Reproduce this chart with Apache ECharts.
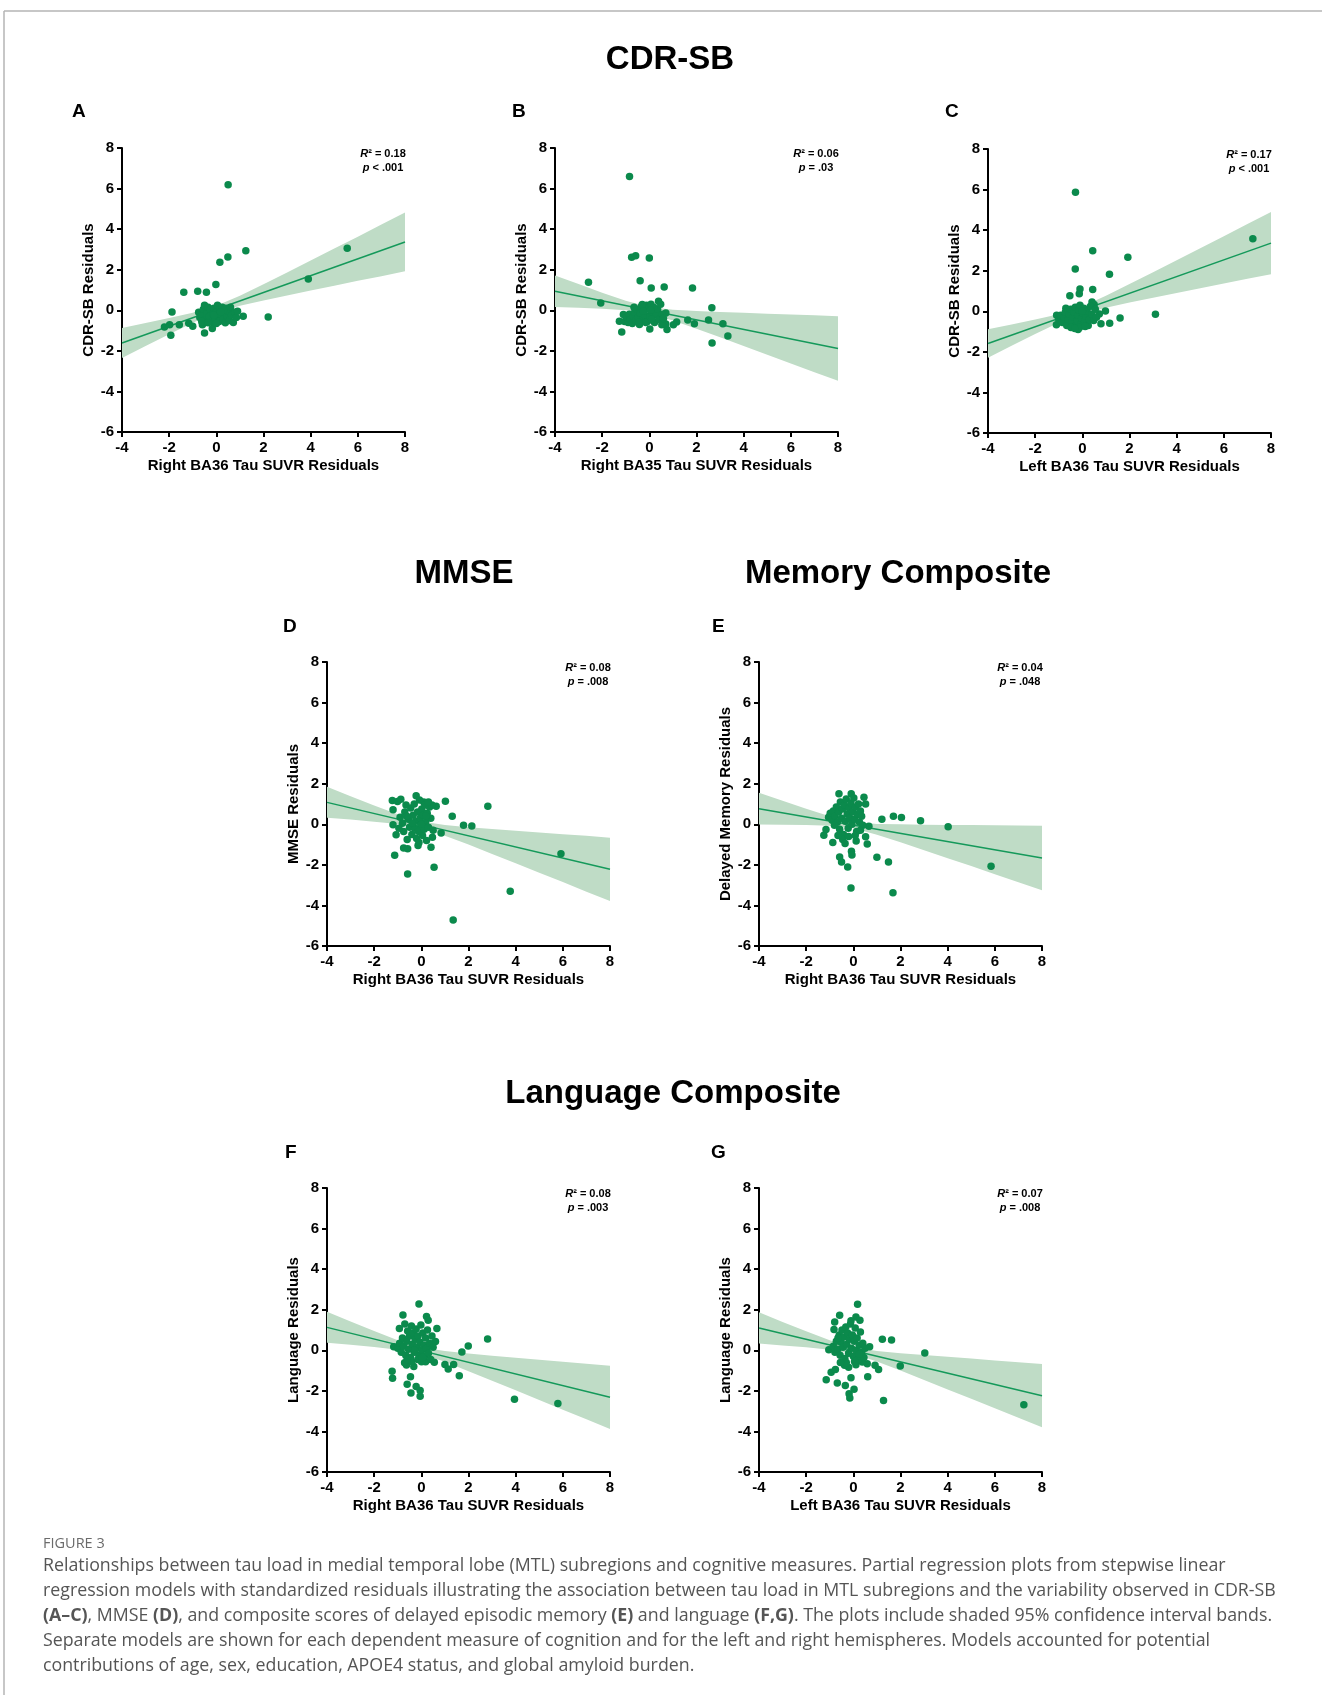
<!DOCTYPE html>
<html><head><meta charset="utf-8">
<script src="https://cdn.jsdelivr.net/npm/echarts@6/dist/echarts.min.js"></script>
<style>html,body{margin:0;padding:0;background:#fff}#c{width:1322px;height:1695px}</style>
</head><body><div id="c"></div>
<script>
// ---------------- DATA ----------------
const xTicks = [-4, -2, 0, 2, 4, 6, 8];
const yTicks = [-6, -4, -2, 0, 2, 4, 6, 8];
const bandX = [-4, -3, -2, -1, 0, 1, 2, 3, 4, 5, 6, 7, 8];

const ptsA = [[0.50,6.19],[1.25,2.94],[0.49,2.63],[0.15,2.37],[5.55,3.06],[3.90,1.54],[-0.02,1.27],[-1.38,0.89],[-0.79,0.94],[-0.42,0.89],[-1.88,-0.08],[2.20,-0.33],[1.14,-0.30],[-2.20,-0.82],[-1.98,-0.71],[-1.57,-0.71],[-1.93,-1.23],[-1.17,-0.64],[-1.00,-0.79],[-0.50,-1.12],[-0.17,-0.90],[-0.59,-0.71],
[-0.75,-0.10],[-0.70,-0.35],[-0.62,-0.20],[-0.55,0.05],[-0.50,0.25],[-0.45,-0.45],[-0.40,-0.15],[-0.35,0.15],[-0.30,-0.30],[-0.25,0.05],[-0.20,-0.55],[-0.15,-0.20],[-0.10,0.10],[-0.05,-0.40],[0.00,-0.10],[0.05,0.25],[0.08,-0.30],[0.12,-0.55],[0.15,0.05],[0.20,-0.20],[0.25,0.15],[0.28,-0.45],[0.33,-0.10],[0.38,-0.62],[0.40,0.10],[0.45,-0.30],[0.52,-0.05],[0.55,-0.50],[0.60,0.15],[0.65,-0.25],[0.72,-0.60],[0.78,-0.10],[0.85,-0.35],[0.90,-0.05],[-0.62,-0.55],[-0.35,-0.62],[0.00,-0.65],[0.30,0.00],[-0.10,-0.25],[0.18,-0.08]];
const lineA = [[-4,-1.61],[8,3.37]];
const upA = [-0.87,-0.63,-0.38,-0.12,0.22,0.72,1.28,1.86,2.45,3.04,3.63,4.23,4.82];
const loA = [-2.35,-1.76,-1.18,-0.62,-0.12,0.22,0.48,0.73,0.97,1.21,1.45,1.68,1.92];

const ptsB = [[-0.84,6.59],[-0.75,2.61],[-0.58,2.69],[0.00,2.58],[-0.39,1.46],[-2.58,1.38],[-2.06,0.36],[0.08,1.10],[0.63,1.15],[1.83,1.10],[2.65,0.12],[0.39,0.44],[2.51,-0.48],[1.63,-0.48],[1.91,-0.66],[3.12,-0.66],[3.33,-1.27],[2.66,-1.61],[-1.17,-1.07],[0.02,-0.92],[0.75,-0.95],[1.16,-0.58],[1.02,-0.71],[0.70,-0.67],[0.70,-0.13],[0.53,-0.71],[-1.27,-0.54],[-1.10,-0.21],
[-1.05,-0.55],[-0.95,-0.35],[-0.90,-0.60],[-0.85,-0.20],[-0.80,-0.45],[-0.72,-0.65],[-0.68,-0.30],[-0.62,-0.10],[-0.58,-0.50],[-0.52,0.05],[-0.48,-0.35],[-0.42,-0.70],[-0.38,-0.15],[-0.33,0.20],[-0.28,-0.45],[-0.22,0.00],[-0.18,-0.25],[-0.12,0.25],[-0.08,-0.55],[-0.03,0.10],[0.02,-0.30],[0.07,0.30],[0.12,-0.10],[0.18,0.15],[0.22,-0.60],[0.28,-0.25],[0.35,0.05],[0.42,-0.45],[0.48,0.30],[0.55,-0.20],[-0.30,0.28],[-0.15,-0.60],[-0.65,0.15],[0.10,-0.45],[-0.45,-0.60],[0.60,-0.40],[-0.25,-0.05],[0.05,0.00]];
const lineB = [[-4,0.94],[8,-1.88]];
const upB = [1.72,1.29,0.87,0.47,0.16,0.03,-0.03,-0.08,-0.12,-0.17,-0.21,-0.25,-0.29];
const loB = [0.16,0.12,0.07,0.00,-0.16,-0.50,-0.91,-1.33,-1.76,-2.19,-2.62,-3.05,-3.47];

const ptsC = [[-0.29,5.87],[7.23,3.58],[0.44,2.99],[1.93,2.66],[-0.30,2.09],[1.15,1.82],[-0.10,1.10],[-0.13,0.87],[0.44,1.07],[-0.53,0.76],[3.10,-0.15],[1.60,-0.33],[1.16,-0.59],[0.79,-0.62],[0.98,0.02],[0.72,-0.13],[-1.10,-0.66],[-1.09,-0.20],[-0.18,-0.90],[0.50,0.33],[0.41,0.46],
[-1.00,-0.40],[-0.92,-0.20],[-0.85,-0.55],[-0.78,-0.30],[-0.72,-0.05],[-0.66,-0.70],[-0.60,-0.40],[-0.55,-0.15],[-0.50,0.10],[-0.45,-0.55],[-0.40,-0.30],[-0.35,-0.05],[-0.30,0.20],[-0.26,-0.70],[-0.22,-0.45],[-0.18,-0.20],[-0.14,0.05],[-0.10,0.30],[-0.06,-0.60],[-0.02,-0.35],[0.02,-0.10],[0.06,0.15],[0.10,-0.50],[0.15,-0.25],[0.20,0.00],[0.25,-0.70],[0.30,-0.40],[0.35,0.25],[0.40,-0.15],[0.48,-0.45],[0.55,0.10],[0.60,-0.30],[-0.48,-0.80],[-0.12,-0.80],[0.12,-0.75],[-0.70,0.15],[-0.32,-0.85],[0.00,0.00]];
const lineC = [[-4,-1.59],[8,3.36]];
const upC = [-0.89,-0.65,-0.41,-0.14,0.24,0.77,1.34,1.93,2.52,3.11,3.70,4.30,4.89];
const loC = [-2.29,-1.70,-1.12,-0.57,-0.12,0.18,0.43,0.67,0.90,1.14,1.37,1.60,1.83];

const ptsD = [[5.92,-1.45],[3.77,-3.30],[1.35,-4.72],[-0.58,-2.45],[0.54,-2.12],[-1.13,-1.53],[2.82,0.89],[1.02,1.13],[1.31,0.39],[1.79,-0.05],[2.14,-0.08],[0.84,-0.43],[0.47,-0.64],[0.41,-1.13],[-0.14,-1.05],[-0.75,-1.17],[-0.58,-1.20],[-1.07,-0.51],[-1.20,-0.02],[-1.20,0.72],[-1.23,1.17],[-1.01,1.12],[-0.87,1.23],[-0.22,1.41],[0.63,0.89],[0.10,1.10],
[-0.90,0.35],[-0.80,0.05],[-0.75,-0.35],[-0.70,0.60],[-0.65,0.95],[-0.60,-0.75],[-0.55,0.25],[-0.50,-0.15],[-0.45,0.80],[-0.40,-0.50],[-0.35,0.45],[-0.30,1.00],[-0.28,-0.20],[-0.24,0.15],[-0.20,-0.70],[-0.16,0.60],[-0.12,-0.35],[-0.08,1.20],[-0.05,0.30],[-0.02,-0.05],[0.02,0.75],[0.05,-0.55],[0.08,0.45],[0.12,-0.25],[0.15,0.95],[0.18,0.10],[0.22,-0.80],[0.25,0.55],[0.30,-0.15],[0.35,0.85],[0.40,0.30],[0.45,0.95],[0.50,-0.30],[0.30,1.10],[-0.95,-0.20],[-0.62,0.40],[-0.10,-0.90],[0.00,0.00],[-0.38,0.05],[0.20,0.40]];
const lineD = [[-4,1.08],[8,-2.22]];
const upD = [1.85,1.38,0.93,0.49,0.14,-0.03,-0.14,-0.23,-0.32,-0.40,-0.49,-0.57,-0.66];
const loD = [0.32,0.23,0.13,0.02,-0.18,-0.56,-1.00,-1.46,-1.92,-2.39,-2.85,-3.32,-3.78];

const ptsE = [[5.84,-2.07],[4.02,-0.12],[2.85,0.18],[2.04,0.33],[1.70,0.39],[1.21,0.25],[1.68,-3.38],[-0.10,-3.14],[1.49,-1.86],[1.00,-1.63],[-0.24,-2.10],[-0.58,-1.61],[-0.50,-1.86],[0.59,-0.97],[0.66,-0.10],[0.52,-0.61],[-0.08,-1.33],[-0.06,-1.51],[0.12,-0.82],[-0.87,-0.90],[-1.25,-0.54],[-1.16,-0.26],[-0.61,1.50],[-0.09,1.50],[0.45,1.33],[0.52,1.00],
[-1.05,0.35],[-0.98,0.55],[-0.90,0.20],[-0.85,0.65],[-0.78,0.40],[-0.72,0.85],[-0.68,0.10],[-0.62,0.60],[-0.58,-0.25],[-0.55,1.10],[-0.50,0.30],[-0.46,0.75],[-0.42,-0.50],[-0.38,0.95],[-0.34,0.15],[-0.30,1.25],[-0.26,0.50],[-0.22,-0.20],[-0.18,0.80],[-0.14,0.30],[-0.10,1.05],[-0.06,0.00],[-0.02,0.60],[0.02,1.30],[0.06,0.25],[0.10,0.85],[0.14,-0.35],[0.18,0.50],[0.22,1.00],[0.26,0.10],[0.30,0.65],[0.35,0.40],[0.40,-0.05],[-0.45,-0.75],[-0.35,-0.95],[-0.20,-0.60],[0.08,-0.55],[-0.65,-0.55],[0.30,-0.30],[-0.80,-0.05]];
const lineE = [[-4,0.77],[8,-1.66]];
const upE = [1.55,1.16,0.77,0.40,0.12,0.02,0.00,-0.02,-0.03,-0.04,-0.05,-0.06,-0.07];
const loE = [-0.01,-0.02,-0.04,-0.07,-0.20,-0.51,-0.89,-1.28,-1.67,-2.06,-2.46,-2.86,-3.25];

const ptsF = [[5.79,-2.62],[3.95,-2.41],[2.81,0.56],[1.99,0.21],[1.72,-0.08],[1.61,-1.26],[1.37,-0.70],[1.00,-0.70],[1.14,-0.92],[0.66,1.08],[0.60,0.43],[0.55,-0.59],[-0.10,2.28],[0.22,1.66],[0.29,1.48],[-0.78,1.74],[-0.93,1.08],[-1.24,-1.03],[-1.22,-1.38],[-1.17,0.18],[-0.60,-1.67],[-0.44,-2.11],[-0.05,-2.26],[-0.05,-1.98],[-0.22,-1.79],[-0.46,-1.30],[-0.63,-0.72],[-0.32,-0.80],[-0.71,-0.62],[0.18,-0.56],[0.01,-0.56],
[-1.00,0.10],[-0.92,0.35],[-0.85,-0.10],[-0.80,0.60],[-0.75,0.20],[-0.70,1.30],[-0.66,-0.25],[-0.62,0.45],[-0.58,0.95],[-0.54,0.05],[-0.50,0.70],[-0.46,-0.35],[-0.42,1.20],[-0.38,0.30],[-0.34,0.85],[-0.30,-0.10],[-0.26,0.55],[-0.22,1.05],[-0.18,0.15],[-0.14,0.70],[-0.10,-0.25],[-0.06,0.40],[-0.02,1.25],[0.02,0.00],[0.06,0.85],[0.10,0.25],[0.14,-0.30],[0.18,0.60],[0.22,0.10],[0.26,1.00],[0.30,-0.15],[0.35,0.35],[0.40,-0.45],[0.45,0.70],[-0.40,-0.55],[-0.15,-0.45],[0.05,-0.35],[-0.60,-0.45],[0.50,0.15],[-0.28,0.00]];
const lineF = [[-4,1.13],[8,-2.32]];
const upF = [1.90,1.42,0.95,0.50,0.14,-0.04,-0.16,-0.27,-0.37,-0.47,-0.56,-0.66,-0.76];
const loF = [0.37,0.27,0.16,0.03,-0.18,-0.57,-1.03,-1.50,-1.97,-2.45,-2.93,-3.40,-3.88];

const ptsG = [[7.23,-2.68],[3.03,-0.13],[1.99,-0.77],[1.62,0.51],[1.23,0.54],[1.28,-2.48],[0.61,-1.31],[1.07,-0.95],[0.92,-0.74],[0.69,0.18],[0.18,2.27],[0.11,1.64],[0.28,1.48],[-0.58,1.73],[-0.79,1.40],[-0.82,1.02],[-1.15,-1.45],[-0.94,-1.08],[-0.76,-0.95],[-0.68,-1.61],[-1.04,0.03],[-0.34,-1.73],[-0.18,-2.14],[-0.15,-2.35],[0.03,-1.92],[-0.10,-1.36],[-0.20,-0.84],[-0.37,-0.74],[0.11,-0.71],[0.59,-0.66],[0.38,-0.58],
[-0.85,0.20],[-0.78,-0.10],[-0.72,0.45],[-0.66,0.05],[-0.60,0.75],[-0.56,-0.25],[-0.52,0.40],[-0.48,1.00],[-0.44,0.15],[-0.40,0.65],[-0.36,-0.40],[-0.32,1.15],[-0.28,0.30],[-0.24,0.85],[-0.20,-0.15],[-0.16,0.55],[-0.12,1.30],[-0.08,0.10],[-0.04,0.75],[0.00,-0.30],[0.04,0.45],[0.08,1.10],[0.12,0.00],[0.16,0.60],[0.20,-0.45],[0.25,0.25],[0.30,0.90],[0.35,-0.10],[0.40,0.35],[0.45,-0.35],[0.50,0.10],[-0.30,-0.60],[-0.55,-0.60],[0.05,-0.55],[-0.10,1.45],[0.25,-0.20],[-0.65,0.60]];
const lineG = [[-4,1.10],[8,-2.24]];
const upG = [1.87,1.40,0.94,0.50,0.15,-0.03,-0.14,-0.23,-0.32,-0.41,-0.50,-0.59,-0.67];
const loG = [0.34,0.24,0.15,0.03,-0.17,-0.55,-1.00,-1.46,-1.93,-2.39,-2.86,-3.33,-3.80];

const panelLetters = ['A','B','C','D','E','F','G'];
const xNames = ['Right BA36 Tau SUVR Residuals','Right BA35 Tau SUVR Residuals','Left BA36 Tau SUVR Residuals','Right BA36 Tau SUVR Residuals','Right BA36 Tau SUVR Residuals','Right BA36 Tau SUVR Residuals','Left BA36 Tau SUVR Residuals'];
const yNames = ['CDR-SB Residuals','CDR-SB Residuals','CDR-SB Residuals','MMSE Residuals','Delayed Memory Residuals','Language Residuals','Language Residuals'];
const r2Values = ['0.18','0.06','0.17','0.08','0.04','0.08','0.07'];
const pValues = ['< .001','= .03','< .001','= .008','= .048','= .003','= .008'];
const sectionTitles = ['CDR-SB','MMSE','Memory Composite','Language Composite'];
const captionHead = 'FIGURE 3';
const captionLines = [
 'Relationships between tau load in medial temporal lobe (MTL) subregions and cognitive measures. Partial regression plots from stepwise linear',
 'regression models with standardized residuals illustrating the association between tau load in MTL subregions and the variability observed in CDR-SB',
 '{b|(A–C)}, MMSE {b|(D)}, and composite scores of delayed episodic memory {b|(E)} and language {b|(F,G)}. The plots include shaded 95% confidence interval bands.',
 'Separate models are shown for each dependent measure of cognition and for the left and right hemispheres. Models accounted for potential',
 'contributions of age, sex, education, APOE4 status, and global amyloid burden.'
];

// ---------------- LAYOUT ----------------
const pts = [ptsA, ptsB, ptsC, ptsD, ptsE, ptsF, ptsG];
const lines = [lineA, lineB, lineC, lineD, lineE, lineF, lineG];
const ups = [upA, upB, upC, upD, upE, upF, upG];
const los = [loA, loB, loC, loD, loE, loF, loG];
const gridPos = [[122,148],[555,148],[988,149],[327,662],[759,662],[327,1188],[759,1188]];
const GW = 283, GH = 284;
const letterPos = [[72,112],[512,112],[945,112],[283,627],[712,627],[285,1153],[711,1153]];
const titlePos = [[670,60],[464,574],[898,574],[673,1094]];
const FONT = '"Liberation Sans", Arial, Helvetica, sans-serif';
const GREEN = '#0b8a4c';

const grid = [], xAxis = [], yAxis = [], series = [], graphic = [];
for (let i = 0; i < 7; i++) {
  const [gl, gt] = gridPos[i];
  grid.push({left: gl, top: gt, width: GW, height: GH, containLabel: false});
  const axCommon = {
    gridIndex: i, type: 'value',
    nameLocation: 'middle',
    nameTextStyle: {color: '#000', fontWeight: 'bold', fontSize: 15, fontFamily: FONT},
    axisLine: {show: true, onZero: false, lineStyle: {color: '#000', width: 2}},
    axisTick: {show: true, length: 5, lineStyle: {color: '#000', width: 2}},
    axisLabel: {color: '#000', fontWeight: 'bold', fontSize: 15, fontFamily: FONT, margin: 8},
    splitLine: {show: false}
  };
  xAxis.push(Object.assign({}, axCommon, {min: xTicks[0], max: xTicks[xTicks.length-1], interval: 2, name: xNames[i], nameGap: 26}));
  yAxis.push(Object.assign({}, axCommon, {min: yTicks[0], max: yTicks[yTicks.length-1], interval: 2, name: yNames[i], nameGap: 26}));
  const up = ups[i], lo = los[i];
  series.push({
    type: 'custom', xAxisIndex: i, yAxisIndex: i, silent: true, z: 1,
    data: [[0, 0]],
    renderItem: function (params, api) {
      const p = [];
      for (let k = 0; k < bandX.length; k++) p.push(api.coord([bandX[k], up[k]]));
      for (let k = bandX.length - 1; k >= 0; k--) p.push(api.coord([bandX[k], lo[k]]));
      return {type: 'polygon', shape: {points: p}, style: {fill: '#bfdcc6'}};
    }
  });
  series.push({
    type: 'line', xAxisIndex: i, yAxisIndex: i, data: lines[i], symbol: 'none', silent: true, z: 2,
    lineStyle: {color: '#14995a', width: 1.5}
  });
  series.push({
    type: 'scatter', xAxisIndex: i, yAxisIndex: i, data: pts[i], symbolSize: 7.5, z: 3,
    itemStyle: {color: GREEN, opacity: 1}
  });
  graphic.push({type: 'text', x: letterPos[i][0], y: letterPos[i][1],
    style: {text: panelLetters[i], fill: '#000', font: 'bold 19px ' + FONT, textAlign: 'left', textVerticalAlign: 'middle', align: 'left', verticalAlign: 'middle'}});
  const cx = gl + GW - 22;
  graphic.push({type: 'text', x: cx, y: gt + 6,
    style: {text: '{i|R}² = ' + r2Values[i], fill: '#000', font: 'bold 11px ' + FONT,
      rich: {i: {fontStyle: 'italic', fontWeight: 'bold', fontSize: 11, fontFamily: FONT}},
      textAlign: 'center', textVerticalAlign: 'middle', align: 'center', verticalAlign: 'middle'}});
  graphic.push({type: 'text', x: cx, y: gt + 20,
    style: {text: '{i|p} ' + pValues[i], fill: '#000', font: 'bold 11px ' + FONT,
      rich: {i: {fontStyle: 'italic', fontWeight: 'bold', fontSize: 11, fontFamily: FONT}},
      textAlign: 'center', textVerticalAlign: 'middle', align: 'center', verticalAlign: 'middle'}});
}
for (let t = 0; t < sectionTitles.length; t++) {
  graphic.push({type: 'text', x: titlePos[t][0], y: titlePos[t][1],
    style: {text: sectionTitles[t], fill: '#000', font: 'bold 33px ' + FONT, textAlign: 'center', textVerticalAlign: 'middle', align: 'center', verticalAlign: 'middle'}});
}
graphic.push({type: 'line', shape: {x1: 4, y1: 11, x2: 1322, y2: 11}, style: {stroke: '#b5b5b5', lineWidth: 1.5}});
graphic.push({type: 'line', shape: {x1: 4, y1: 11, x2: 4, y2: 1695}, style: {stroke: '#b5b5b5', lineWidth: 1.5}});
const CAP = '"Open Sans", "Noto Sans", sans-serif';
graphic.push({type: 'text', x: 43, y: 1544,
  style: {text: captionHead, fill: '#6b6b6b', font: '14.5px ' + CAP, textAlign: 'left', textVerticalAlign: 'middle', align: 'left', verticalAlign: 'middle'}});
const capY = [1566, 1591, 1616, 1641, 1666];
for (let k = 0; k < captionLines.length; k++) {
  graphic.push({type: 'text', x: 43, y: capY[k],
    style: {text: captionLines[k], fill: '#555', font: '17.8px ' + CAP,
      rich: {b: {fontWeight: 'bold', fontSize: 17.8, fontFamily: CAP, fill: '#555'}},
      textAlign: 'left', textVerticalAlign: 'middle', align: 'left', verticalAlign: 'middle'}});
}

const chart = echarts.init(document.getElementById('c'), null, {renderer: 'canvas'});
chart.setOption({
  animation: false,
  backgroundColor: '#fff',
  grid: grid, xAxis: xAxis, yAxis: yAxis, series: series, graphic: graphic
});
</script>
</body></html>
